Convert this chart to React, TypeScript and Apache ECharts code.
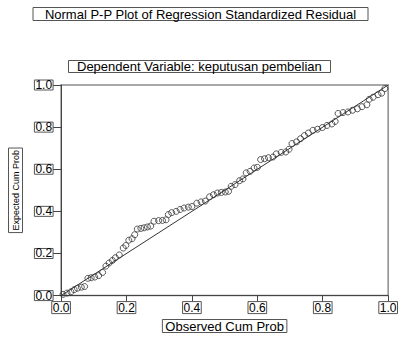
import React, { useEffect, useRef } from "react";
import * as echarts from "echarts";

const titleText = "Normal P-P Plot of Regression Standardized Residual";
const subtitleText = "Dependent Variable: keputusan pembelian";
const xAxisName = "Observed Cum Prob";
const yAxisName = "Expected Cum Prob";
const tickValues = [0, 0.2, 0.4, 0.6, 0.8, 1.0];

// [observed cum prob, expected cum prob]
const points: [number, number][] = [
  [0.006, 0.006], [0.018, 0.012], [0.03, 0.018], [0.04, 0.028], [0.05, 0.035],
  [0.062, 0.04], [0.072, 0.043], [0.082, 0.082], [0.092, 0.085], [0.103, 0.088],
  [0.115, 0.095], [0.127, 0.11], [0.137, 0.14], [0.147, 0.155], [0.157, 0.167],
  [0.166, 0.18], [0.178, 0.193], [0.19, 0.226], [0.198, 0.238], [0.207, 0.263],
  [0.217, 0.27], [0.225, 0.289], [0.233, 0.316], [0.244, 0.319], [0.254, 0.322],
  [0.264, 0.326], [0.274, 0.33], [0.284, 0.353], [0.298, 0.356], [0.31, 0.357],
  [0.321, 0.36], [0.328, 0.385], [0.338, 0.394], [0.352, 0.4], [0.364, 0.409],
  [0.376, 0.416], [0.389, 0.42], [0.4, 0.423], [0.415, 0.439], [0.428, 0.445],
  [0.441, 0.449], [0.454, 0.469], [0.466, 0.479], [0.478, 0.487], [0.49, 0.49],
  [0.502, 0.492], [0.512, 0.495], [0.52, 0.519], [0.532, 0.527], [0.546, 0.546],
  [0.556, 0.554], [0.566, 0.583], [0.578, 0.59], [0.59, 0.606], [0.6, 0.609],
  [0.61, 0.646], [0.622, 0.65], [0.634, 0.655], [0.648, 0.658], [0.658, 0.673],
  [0.673, 0.68], [0.687, 0.682], [0.697, 0.695], [0.706, 0.722], [0.72, 0.73],
  [0.732, 0.745], [0.744, 0.76], [0.756, 0.772], [0.77, 0.785], [0.784, 0.79],
  [0.799, 0.798], [0.813, 0.808], [0.828, 0.815], [0.838, 0.827], [0.847, 0.865],
  [0.862, 0.869], [0.877, 0.872], [0.891, 0.88], [0.906, 0.887], [0.92, 0.897],
  [0.935, 0.906], [0.942, 0.932], [0.954, 0.942], [0.969, 0.954], [0.98, 0.961],
  [0.99, 0.983],
];

const diagonal: [number, number][] = [
  [0, 0],
  [1, 1],
];

const FONT = "'Liberation Sans', Arial, sans-serif";

export default function App() {
  const ref = useRef<HTMLDivElement>(null);

  useEffect(() => {
    if (!ref.current) return;
    const chart = echarts.init(ref.current, undefined, { renderer: "svg" });
    const boxLabel = {
      color: "#000",
      fontFamily: FONT,
      borderColor: "#555",
      borderWidth: 1,
    };
    chart.setOption({
      animation: false,
      backgroundColor: "#fff",
      title: [
        {
          text: titleText,
          left: "center",
          top: 8,
          padding: [0, 12],
          borderColor: "#555",
          borderWidth: 1,
          textStyle: {
            fontFamily: FONT,
            fontSize: 13,
            fontWeight: "normal",
            color: "#000",
            lineHeight: 12,
          },
        },
        {
          text: subtitleText,
          left: 68,
          top: 61,
          padding: [0, 9],
          borderColor: "#555",
          borderWidth: 1,
          textStyle: {
            fontFamily: FONT,
            fontSize: 13,
            fontWeight: "normal",
            color: "#000",
            lineHeight: 11,
          },
        },
      ],
      grid: {
        left: 51,
        top: 85,
        width: 343,
        height: 224,
        show: true,
        borderColor: "#8c8c8c",
        borderWidth: 1.5,
        backgroundColor: "transparent",
      },
      xAxis: {
        type: "value",
        min: 0,
        max: 1,
        interval: 0.2,
        name: xAxisName,
        nameLocation: "middle",
        nameGap: 16,
        nameTextStyle: {
          ...boxLabel,
          fontSize: 13,
          lineHeight: 13,
          padding: [0, 3],
        },
        axisLine: { show: true, lineStyle: { color: "#444", width: 1 } },
        axisTick: { show: true, length: 6, lineStyle: { color: "#444" } },
        splitLine: { show: false },
        axisLabel: {
          ...boxLabel,
          fontSize: 12,
          lineHeight: 10,
          padding: [1, 1],
          margin: 6,
          formatter: (v: number) => v.toFixed(1),
          customValues: tickValues,
        },
      },
      yAxis: {
        type: "value",
        min: 0,
        max: 1,
        interval: 0.2,
        name: yAxisName,
        nameLocation: "middle",
        nameGap: 26,
        nameRotate: 90,
        nameTextStyle: {
          ...boxLabel,
          fontSize: 9,
          lineHeight: 12,
          padding: [1, 2],
        },
        axisLine: { show: true, lineStyle: { color: "#444", width: 1 } },
        axisTick: { show: true, length: 8, lineStyle: { color: "#444" } },
        splitLine: { show: false },
        axisLabel: {
          ...boxLabel,
          fontSize: 12,
          lineHeight: 10,
          padding: [0, 1],
          margin: 8,
          formatter: (v: number) => v.toFixed(1),
        },
      },
      series: [
        {
          type: "line",
          data: diagonal,
          showSymbol: false,
          symbol: "none",
          lineStyle: { color: "#333", width: 1 },
          silent: true,
          z: 1,
        },
        {
          type: "scatter",
          data: points,
          symbol: "circle",
          symbolSize: 6,
          itemStyle: {
            color: "transparent",
            borderColor: "#333",
            borderWidth: 1,
          },
          z: 2,
        },
      ],
    });
    return () => chart.dispose();
  }, []);

  return (
    <div
      ref={ref}
      style={{ position: "absolute", left: 0, top: 0, width: 401, height: 338 }}
    />
  );
}
